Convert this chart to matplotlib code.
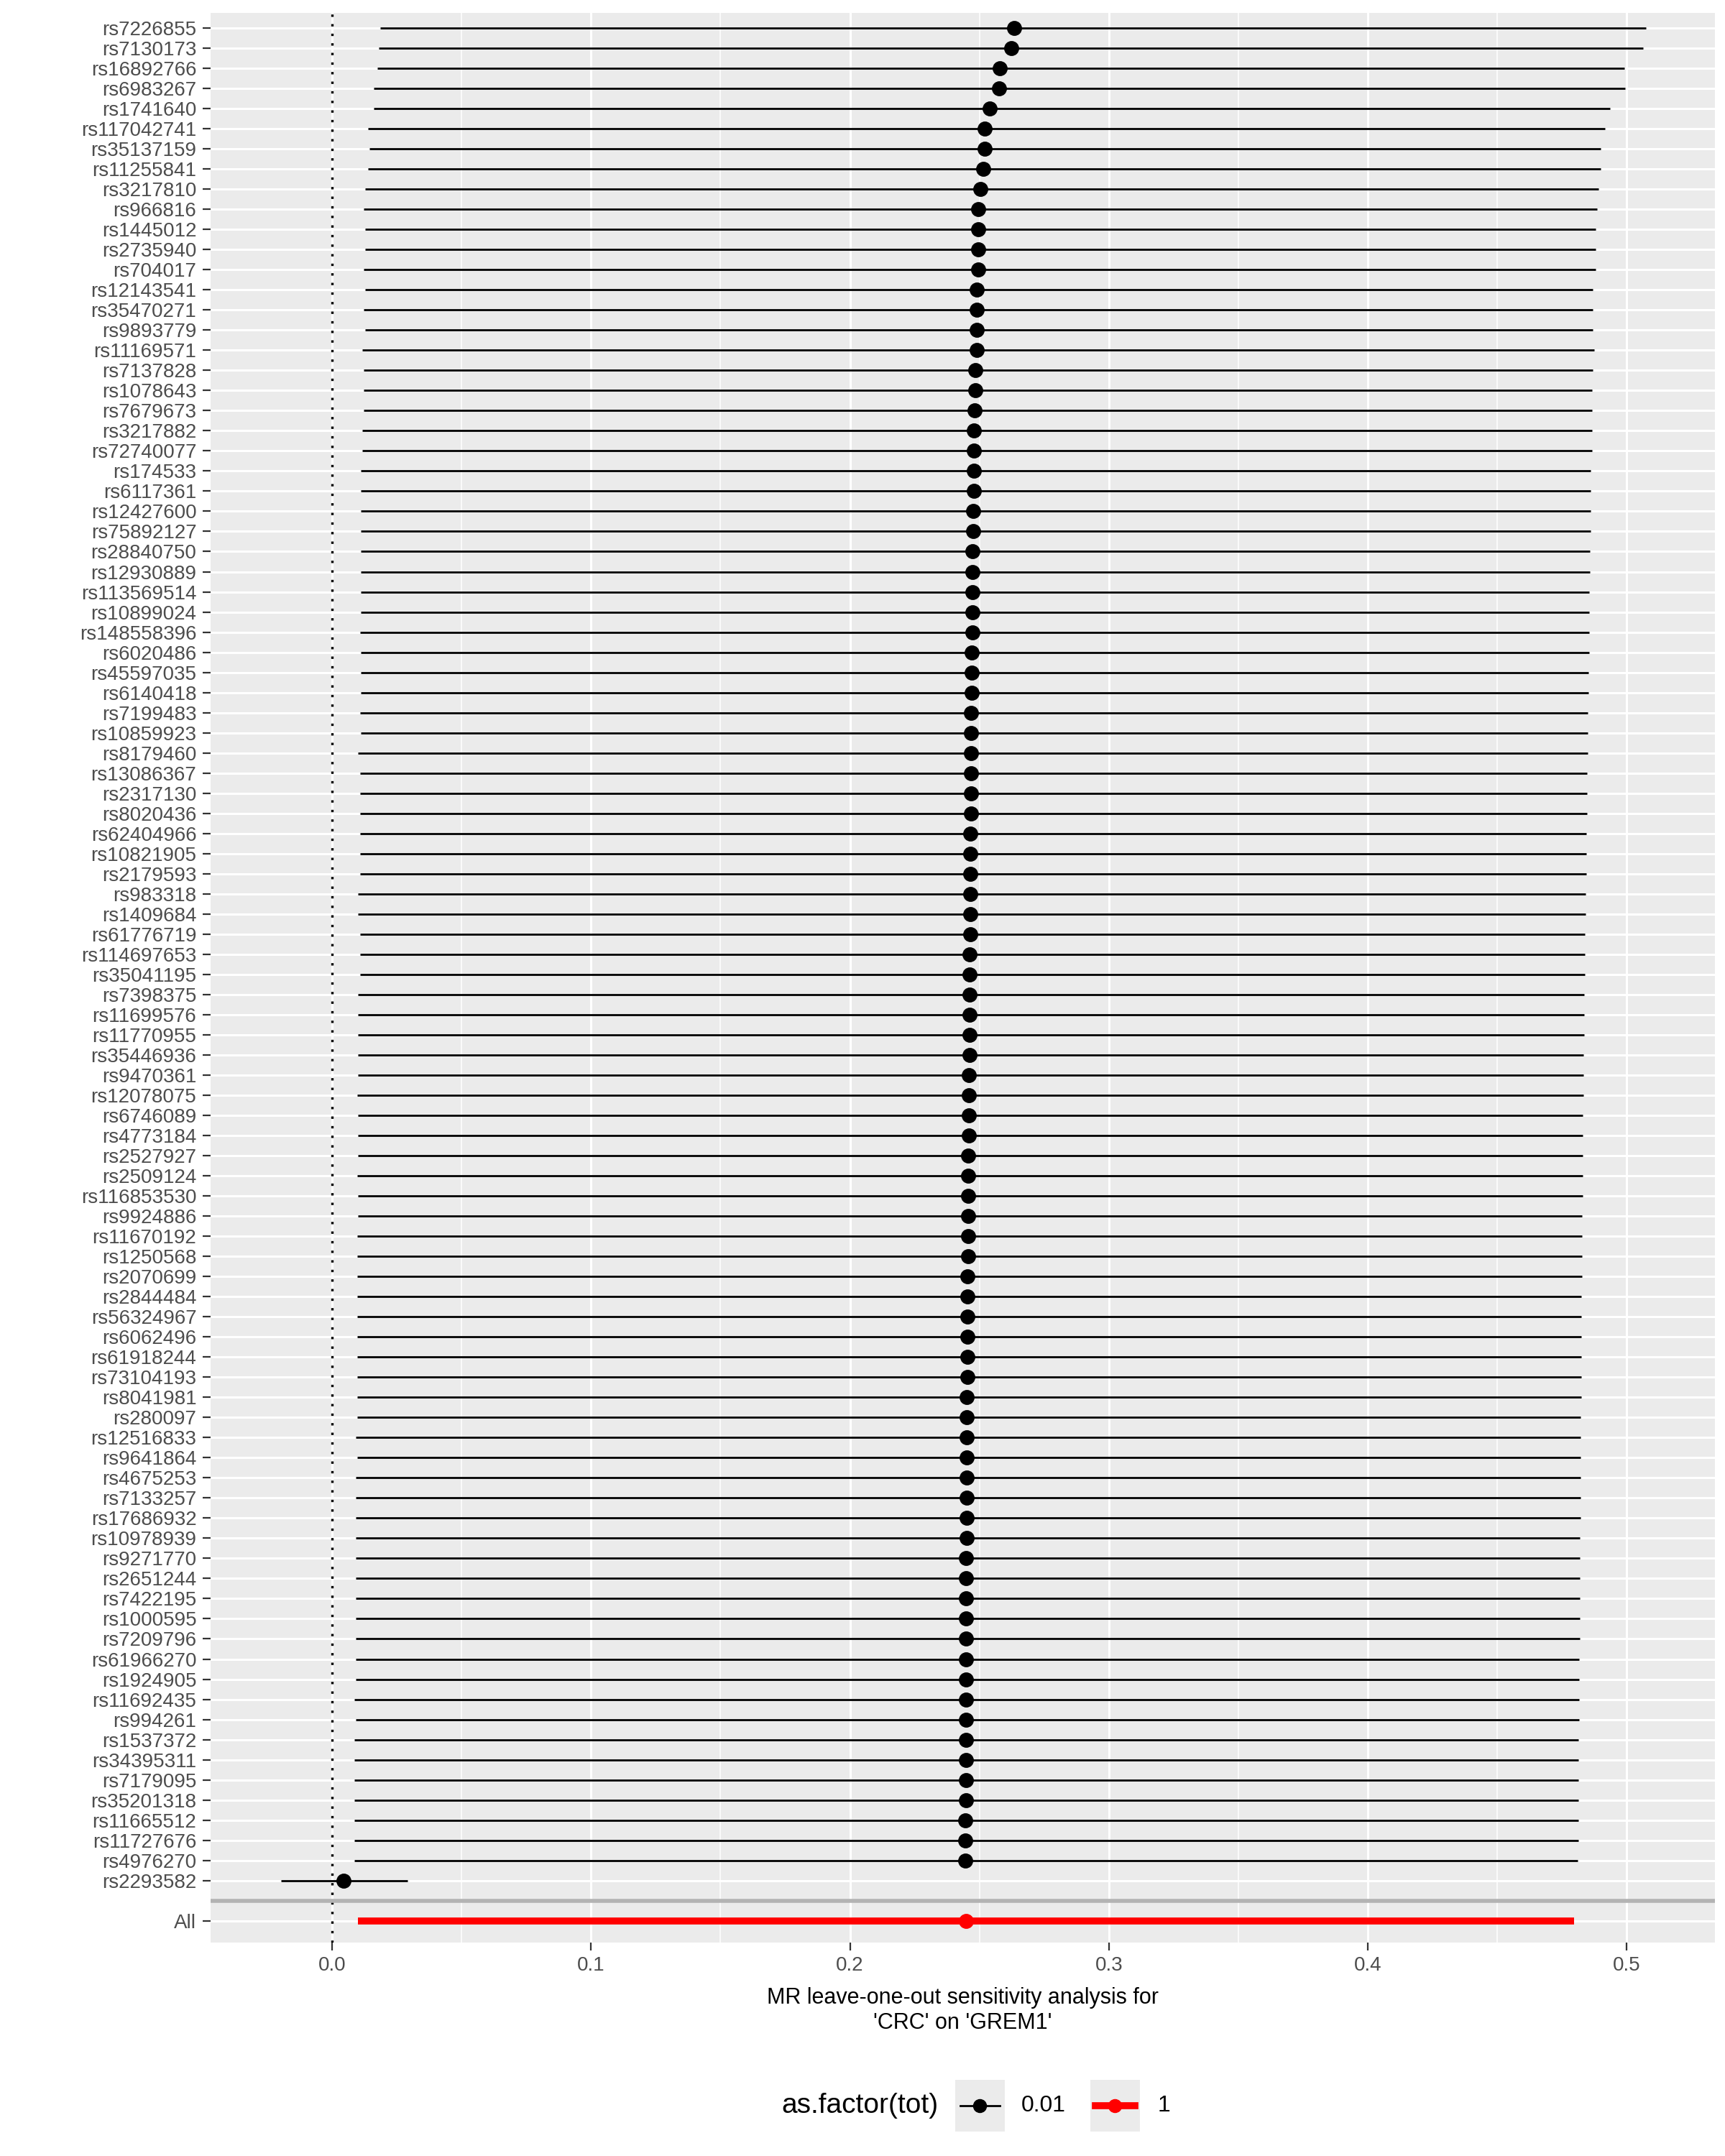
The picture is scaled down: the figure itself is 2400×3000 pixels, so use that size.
import matplotlib
matplotlib.use("Agg")
import matplotlib.pyplot as plt
from matplotlib.lines import Line2D
from matplotlib.patches import Rectangle
from matplotlib.ticker import MultipleLocator

plt.rcParams['font.family'] = ['Liberation Sans', 'DejaVu Sans']

snps = ["rs7226855","rs7130173","rs16892766","rs6983267","rs1741640","rs117042741","rs35137159","rs11255841","rs3217810","rs966816",
"rs1445012","rs2735940","rs704017","rs12143541","rs35470271","rs9893779","rs11169571","rs7137828","rs1078643","rs7679673",
"rs3217882","rs72740077","rs174533","rs6117361","rs12427600","rs75892127","rs28840750","rs12930889","rs113569514","rs10899024",
"rs148558396","rs6020486","rs45597035","rs6140418","rs7199483","rs10859923","rs8179460","rs13086367","rs2317130","rs8020436",
"rs62404966","rs10821905","rs2179593","rs983318","rs1409684","rs61776719","rs114697653","rs35041195","rs7398375","rs11699576",
"rs11770955","rs35446936","rs9470361","rs12078075","rs6746089","rs4773184","rs2527927","rs2509124","rs116853530","rs9924886",
"rs11670192","rs1250568","rs2070699","rs2844484","rs56324967","rs6062496","rs61918244","rs73104193","rs8041981","rs280097",
"rs12516833","rs9641864","rs4675253","rs7133257","rs17686932","rs10978939","rs9271770","rs2651244","rs7422195","rs1000595",
"rs7209796","rs61966270","rs1924905","rs11692435","rs994261","rs1537372","rs34395311","rs7179095","rs35201318","rs11665512",
"rs11727676","rs4976270","rs2293582"]

b = [0.2633,0.2623,0.2580,0.2575,0.2540,0.2520,0.2520,0.2515,0.2505,0.2495,
0.2495,0.2495,0.2495,0.2490,0.2490,0.2490,0.2490,0.2485,0.2485,0.2482,
0.2480,0.2480,0.2478,0.2478,0.2476,0.2476,0.2474,0.2474,0.2473,0.2473,
0.2472,0.2471,0.2470,0.2470,0.2469,0.2469,0.2468,0.2468,0.2467,0.2467,
0.2466,0.2466,0.2465,0.2465,0.2464,0.2464,0.2463,0.2463,0.2462,0.2462,
0.2461,0.2461,0.2460,0.2460,0.2459,0.2459,0.2458,0.2458,0.2457,0.2457,
0.2456,0.2456,0.2455,0.2455,0.2454,0.2454,0.2453,0.2453,0.2452,0.2452,
0.2451,0.2451,0.2450,0.2450,0.2450,0.2450,0.2449,0.2449,0.2449,0.2449,
0.2448,0.2448,0.2448,0.2448,0.2447,0.2447,0.2447,0.2447,0.2447,0.2446,
0.2446,0.2446,0.0043]

lo = [0.0187,0.0180,0.0176,0.0160,0.0160,0.0139,0.0145,0.0139,0.0128,0.0122,
0.0128,0.0128,0.0122,0.0128,0.0122,0.0128,0.0117,0.0122,0.0122,0.0122,
0.0117,0.0117,0.0112,0.0112,0.0112,0.0112,0.0112,0.0112,0.0112,0.0112,
0.0107,0.0112,0.0112,0.0112,0.0107,0.0112,0.0101,0.0107,0.0107,0.0107,
0.0107,0.0107,0.0107,0.0101,0.0101,0.0107,0.0107,0.0107,0.0101,0.0101,
0.0101,0.0101,0.0101,0.0096,0.0101,0.0101,0.0101,0.0096,0.0101,0.0101,
0.0096,0.0096,0.0096,0.0096,0.0096,0.0096,0.0096,0.0096,0.0096,0.0096,
0.0091,0.0096,0.0091,0.0091,0.0091,0.0091,0.0091,0.0091,0.0091,0.0091,
0.0091,0.0091,0.0091,0.0085,0.0091,0.0085,0.0085,0.0085,0.0085,0.0085,
0.0085,0.0085,-0.0197]

hi = [0.5075,0.5064,0.4990,0.4995,0.4936,0.4915,0.4900,0.4900,0.4890,0.4885,
0.4880,0.4880,0.4880,0.4870,0.4870,0.4870,0.4875,0.4870,0.4865,0.4865,
0.4865,0.4865,0.4862,0.4862,0.4860,0.4860,0.4858,0.4858,0.4856,0.4856,
0.4855,0.4854,0.4853,0.4852,0.4851,0.4850,0.4849,0.4848,0.4847,0.4846,
0.4845,0.4844,0.4843,0.4842,0.4841,0.4840,0.4839,0.4838,0.4837,0.4836,
0.4835,0.4834,0.4833,0.4832,0.4831,0.4830,0.4830,0.4829,0.4829,0.4828,
0.4828,0.4827,0.4827,0.4826,0.4826,0.4825,0.4825,0.4824,0.4824,0.4823,
0.4823,0.4822,0.4822,0.4821,0.4821,0.4820,0.4820,0.4819,0.4819,0.4818,
0.4818,0.4817,0.4817,0.4816,0.4816,0.4815,0.4815,0.4814,0.4814,0.4813,
0.4813,0.4812,0.0290]

all_b, all_lo, all_hi = 0.2447, 0.0100, 0.4797
xticks = [0.0, 0.1, 0.2, 0.3, 0.4, 0.5]
legend_labels = ['0.01', '1']
legend_colors = ['black', 'red']

fig = plt.figure(figsize=(12, 15), dpi=200)
ax = fig.add_axes([0.122, 0.099, 0.872, 0.895])
ax.set_facecolor('#EBEBEB')

n = len(snps)
ys = list(range(n))
y_all = n + 1
ax.hlines(ys, lo, hi, color='black', lw=1.0, zorder=3)
ax.plot(b, ys, 'o', color='black', ms=6.5, zorder=4)
ax.hlines([y_all], [all_lo], [all_hi], color='red', lw=3.5, zorder=3)
ax.plot([all_b], [y_all], 'o', color='red', ms=6.5, zorder=4)
ax.axvline(0, color='black', ls=(0, (1, 3)), lw=1.2, zorder=2)
ax.axhline(n, color='#B3B3B3', lw=2, zorder=2)

ax.set_yticks(ys + [y_all])
ax.set_yticklabels(snps + ["All"], fontsize=10, color='#4D4D4D')
ax.set_xticks(xticks)
ax.set_xticklabels([f"{t:.1f}" for t in xticks], fontsize=10, color='#4D4D4D')
ax.xaxis.set_minor_locator(MultipleLocator(0.05))
ax.set_xlim(-0.047, 0.534)
ax.set_ylim(n + 2.08, -0.75)
ax.grid(which='major', color='white', lw=1.1, zorder=0)
ax.grid(which='minor', axis='x', color='white', lw=0.55, zorder=0)
ax.set_axisbelow(True)
ax.tick_params(which='major', length=4, color='#333333', pad=3)
ax.tick_params(which='minor', length=0)
for s in ax.spines.values():
    s.set_visible(False)
ax.set_xlabel("MR leave-one-out sensitivity analysis for\n'CRC' on 'GREM1'", fontsize=11, labelpad=6)

# legend drawn in figure coordinates
yc = 0.0235
fig.text(0.544, yc, 'as.factor(tot)', fontsize=14, ha='right', va='center')
boxes = [(0.5536, 0.592), (0.632, 0.671)]
for (bx, tx), lab, col in zip(boxes, legend_labels, legend_colors):
    fig.patches.append(Rectangle((bx, 0.0115), 0.0288, 0.0237, transform=fig.transFigure,
                                 facecolor='#EBEBEB', edgecolor='none'))
    lw = 1.0 if col == 'black' else 3.5
    fig.lines.append(Line2D([bx + 0.003, bx + 0.0258], [yc, yc], transform=fig.transFigure,
                            color=col, lw=lw))
    fig.lines.append(Line2D([bx + 0.0144], [yc], transform=fig.transFigure, color=col,
                            marker='o', ms=6, lw=0))
    fig.text(tx, yc, lab, fontsize=11.5, ha='left', va='center')

fig.savefig('out.png', dpi=200)
